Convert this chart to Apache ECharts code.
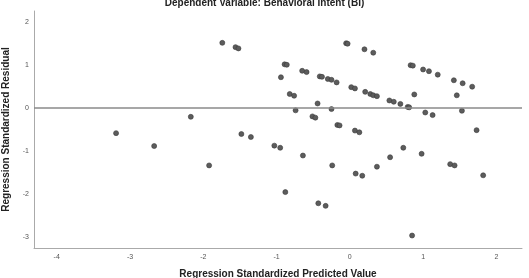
<!DOCTYPE html>
<html>
<head>
<meta charset="utf-8">
<script src="https://cdn.jsdelivr.net/npm/echarts@6/dist/echarts.min.js"></script>
<style>html,body{margin:0;padding:0;background:#fff;}#c{width:529px;height:278px;}</style>
</head>
<body>
<div id="c"></div>
<script>
var titleText = 'Dependent Variable: Behavioral Intent (BI)';
var xName = 'Regression Standardized Predicted Value';
var yName = 'Regression Standardized Residual';
var xTicks = [-4, -3, -2, -1, 0, 1, 2];
var yTicks = [-3, -2, -1, 0, 1, 2];
var predicted = [
  -1.74, -1.56, -1.52, -2.17, -3.19, -2.67, -1.92, -1.48, -1.35, -1.03,
  -0.95, -0.88, -0.89, -0.86, -0.94, -0.82, -0.76, -0.05, -0.03, 0.20,
  0.32, -0.65, -0.59, -0.41, -0.38, -0.30, -0.25, -0.18, 0.02, 0.07,
  0.21, 0.28, 0.32, 0.37, 0.54, 0.60, 0.69, 0.79, 0.81, -0.44,
  -0.74, -0.25, -0.51, -0.47, -0.17, -0.14, 0.07, 0.13, 0.83, 0.86,
  1.00, 1.08, 1.20, 1.42, 1.54, 1.67, 0.88, 1.46, 1.03, 1.13,
  1.53, 1.73, -0.64, -0.24, 0.08, 0.17, 0.37, -0.43, -0.33, 0.55,
  0.73, 0.98, 1.37, 1.43, 1.82, 0.85
];
var residual = [
  1.52, 1.42, 1.39, -0.20, -0.58, -0.88, -1.33, -0.60, -0.67, -0.87,
  -0.92, -1.95, 1.02, 1.01, 0.72, 0.33, 0.29, 1.51, 1.50, 1.37,
  1.29, 0.87, 0.84, 0.74, 0.73, 0.68, 0.66, 0.60, 0.49, 0.46,
  0.38, 0.33, 0.30, 0.28, 0.18, 0.15, 0.10, 0.03, 0.02, 0.11,
  -0.05, -0.02, -0.19, -0.22, -0.39, -0.40, -0.52, -0.56, 1.00, 0.99,
  0.90, 0.86, 0.78, 0.65, 0.58, 0.50, 0.32, 0.30, -0.10, -0.16,
  -0.06, -0.51, -1.10, -1.33, -1.52, -1.57, -1.36, -2.21, -2.27, -1.14,
  -0.92, -1.06, -1.30, -1.33, -1.56, -2.96
];
var points = predicted.map(function (x, i) { return [x, residual[i]]; });

var chart = echarts.init(document.getElementById('c'), null, {renderer: 'canvas'});
var font = '"Liberation Sans", Arial, sans-serif';
chart.setOption({
  animation: false,
  backgroundColor: '#fff',
  graphic: [{
    type: 'text',
    left: 'center',
    top: -2,
    style: {text: titleText, font: 'bold 10px ' + font, fill: '#222'}
  }],
  grid: {left: 34, right: 7, top: 11, bottom: 30, containLabel: false, outerBoundsMode: 'none'},
  xAxis: {
    type: 'value', min: -4.31, max: 2.35,
    name: xName, nameLocation: 'middle', nameGap: 21,
    nameTextStyle: {fontFamily: font, fontWeight: 'bold', fontSize: 10, color: '#222'},
    axisLine: {show: true, onZero: false, lineStyle: {color: '#aaa', width: 1}},
    axisTick: {show: false},
    splitLine: {show: false},
    axisLabel: {customValues: xTicks, fontSize: 7, color: '#555', fontFamily: font, margin: 6}
  },
  yAxis: {
    type: 'value', min: -3.25, max: 2.26,
    name: yName, nameLocation: 'middle', nameGap: 23,
    nameTextStyle: {fontFamily: font, fontWeight: 'bold', fontSize: 10, color: '#222'},
    axisLine: {show: true, onZero: false, lineStyle: {color: '#aaa', width: 1}},
    axisTick: {show: false},
    splitLine: {show: false},
    axisLabel: {customValues: yTicks, fontSize: 7, color: '#555', fontFamily: font, margin: 5}
  },
  series: [{
    type: 'scatter',
    data: points,
    symbolSize: 5,
    itemStyle: {color: '#5c5c5c', borderColor: '#3a3a3a', borderWidth: 0.6, opacity: 1},
    markLine: {
      silent: true, symbol: 'none', label: {show: false},
      lineStyle: {color: '#8a8a8a', width: 1.5, type: 'solid'},
      data: [{yAxis: 0}]
    }
  }]
});
</script>
</body>
</html>
